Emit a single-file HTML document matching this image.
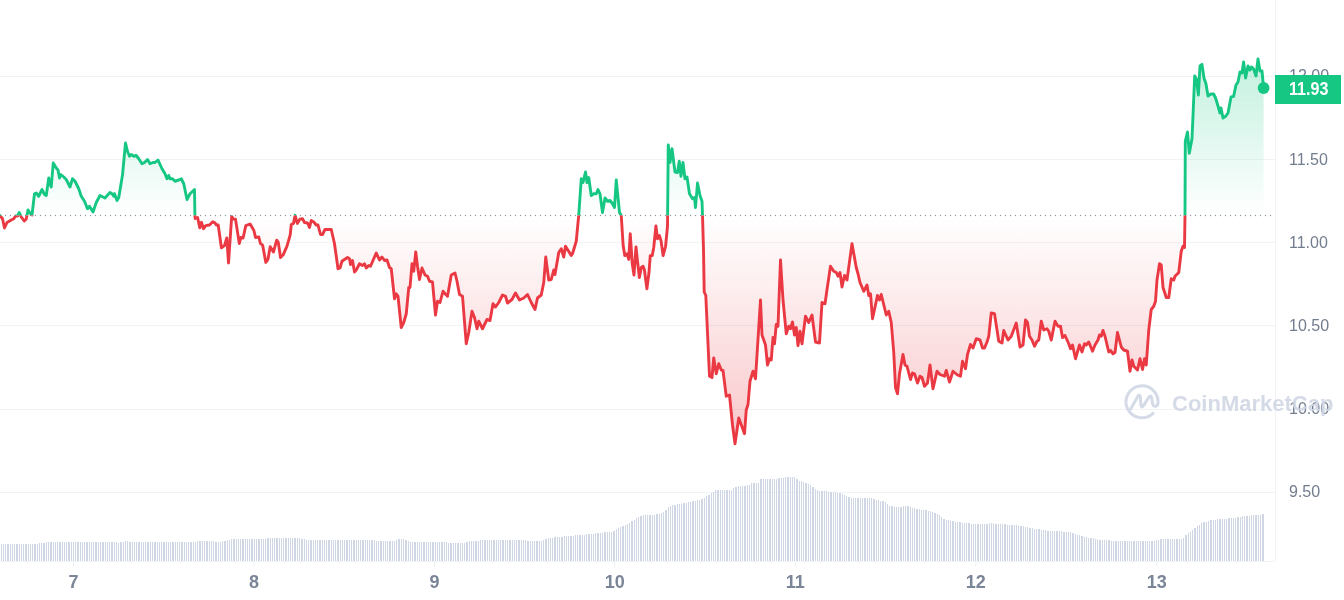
<!DOCTYPE html>
<html><head><meta charset="utf-8"><style>
html,body{margin:0;padding:0;background:#fff;width:1344px;height:600px;overflow:hidden}
svg{position:absolute;left:0;top:0;display:block;will-change:transform}
text{font-family:"Liberation Sans",sans-serif}
</style></head><body>
<svg width="1344" height="600" viewBox="0 0 1344 600">
<defs>
<clipPath id="cu"><rect x="0" y="0" width="1344" height="215.5"/></clipPath>
<clipPath id="cd"><rect x="0" y="215.5" width="1344" height="384.5"/></clipPath>
<linearGradient id="gg" gradientUnits="userSpaceOnUse" x1="0" y1="59" x2="0" y2="215.5">
<stop offset="0" stop-color="#16c784" stop-opacity="0.26"/><stop offset="1" stop-color="#16c784" stop-opacity="0"/></linearGradient>
<linearGradient id="rg" gradientUnits="userSpaceOnUse" x1="0" y1="215.5" x2="0" y2="444">
<stop offset="0" stop-color="#ea3943" stop-opacity="0"/><stop offset="1" stop-color="#ea3943" stop-opacity="0.28"/></linearGradient>
</defs>
<g stroke="#f2f3f5" stroke-width="1" fill="none" shape-rendering="crispEdges"><line x1="0" y1="76.5" x2="1275" y2="76.5"/><line x1="0" y1="159.5" x2="1275" y2="159.5"/><line x1="0" y1="242.5" x2="1275" y2="242.5"/><line x1="0" y1="325.5" x2="1275" y2="325.5"/><line x1="0" y1="409.5" x2="1275" y2="409.5"/><line x1="0" y1="492.5" x2="1275" y2="492.5"/><line x1="1275.5" y1="0" x2="1275.5" y2="561"/><line x1="0" y1="561.5" x2="1275" y2="561.5"/></g>
<g fill="#cfd6e4" shape-rendering="crispEdges"><rect x="1" y="544" width="1" height="17"/><rect x="3" y="544" width="1" height="17"/><rect x="5" y="544" width="1" height="17"/><rect x="7" y="544" width="2" height="17"/><rect x="10" y="544" width="1" height="17"/><rect x="12" y="544" width="1" height="17"/><rect x="14" y="544" width="1" height="17"/><rect x="16" y="544" width="2" height="17"/><rect x="19" y="544" width="1" height="17"/><rect x="21" y="544" width="1" height="17"/><rect x="23" y="544" width="1" height="17"/><rect x="25" y="544" width="2" height="17"/><rect x="28" y="544" width="1" height="17"/><rect x="30" y="544" width="1" height="17"/><rect x="32" y="544" width="1" height="17"/><rect x="34" y="544" width="2" height="17"/><rect x="37" y="544" width="1" height="17"/><rect x="39" y="543" width="1" height="18"/><rect x="41" y="543" width="1" height="18"/><rect x="43" y="543" width="2" height="18"/><rect x="46" y="542" width="1" height="19"/><rect x="48" y="542" width="1" height="19"/><rect x="50" y="542" width="2" height="19"/><rect x="53" y="542" width="1" height="19"/><rect x="55" y="542" width="1" height="19"/><rect x="57" y="542" width="1" height="19"/><rect x="59" y="542" width="2" height="19"/><rect x="62" y="542" width="1" height="19"/><rect x="64" y="542" width="1" height="19"/><rect x="66" y="542" width="1" height="19"/><rect x="68" y="542" width="2" height="19"/><rect x="71" y="542" width="1" height="19"/><rect x="73" y="542" width="1" height="19"/><rect x="75" y="542" width="1" height="19"/><rect x="77" y="542" width="2" height="19"/><rect x="80" y="542" width="1" height="19"/><rect x="82" y="542" width="1" height="19"/><rect x="84" y="542" width="1" height="19"/><rect x="86" y="542" width="2" height="19"/><rect x="89" y="542" width="1" height="19"/><rect x="91" y="542" width="1" height="19"/><rect x="93" y="542" width="1" height="19"/><rect x="95" y="542" width="2" height="19"/><rect x="98" y="542" width="1" height="19"/><rect x="100" y="542" width="1" height="19"/><rect x="102" y="542" width="2" height="19"/><rect x="105" y="542" width="1" height="19"/><rect x="107" y="542" width="1" height="19"/><rect x="109" y="542" width="1" height="19"/><rect x="111" y="542" width="2" height="19"/><rect x="114" y="542" width="1" height="19"/><rect x="116" y="542" width="1" height="19"/><rect x="118" y="543" width="1" height="18"/><rect x="120" y="542" width="2" height="19"/><rect x="123" y="542" width="1" height="19"/><rect x="125" y="541" width="1" height="20"/><rect x="127" y="541" width="1" height="20"/><rect x="129" y="542" width="2" height="19"/><rect x="132" y="542" width="1" height="19"/><rect x="134" y="542" width="1" height="19"/><rect x="136" y="542" width="1" height="19"/><rect x="138" y="542" width="2" height="19"/><rect x="141" y="542" width="1" height="19"/><rect x="143" y="542" width="1" height="19"/><rect x="145" y="542" width="1" height="19"/><rect x="147" y="542" width="2" height="19"/><rect x="150" y="542" width="1" height="19"/><rect x="152" y="542" width="1" height="19"/><rect x="154" y="542" width="2" height="19"/><rect x="157" y="542" width="1" height="19"/><rect x="159" y="542" width="1" height="19"/><rect x="161" y="542" width="1" height="19"/><rect x="163" y="542" width="2" height="19"/><rect x="166" y="542" width="1" height="19"/><rect x="168" y="542" width="1" height="19"/><rect x="170" y="542" width="1" height="19"/><rect x="172" y="542" width="2" height="19"/><rect x="175" y="542" width="1" height="19"/><rect x="177" y="542" width="1" height="19"/><rect x="179" y="542" width="1" height="19"/><rect x="181" y="542" width="2" height="19"/><rect x="184" y="542" width="1" height="19"/><rect x="186" y="542" width="1" height="19"/><rect x="188" y="542" width="1" height="19"/><rect x="190" y="542" width="2" height="19"/><rect x="193" y="542" width="1" height="19"/><rect x="195" y="542" width="1" height="19"/><rect x="197" y="541" width="1" height="20"/><rect x="199" y="541" width="2" height="20"/><rect x="202" y="541" width="1" height="20"/><rect x="204" y="541" width="1" height="20"/><rect x="206" y="541" width="2" height="20"/><rect x="209" y="541" width="1" height="20"/><rect x="211" y="541" width="1" height="20"/><rect x="213" y="541" width="1" height="20"/><rect x="215" y="542" width="2" height="19"/><rect x="218" y="542" width="1" height="19"/><rect x="220" y="542" width="1" height="19"/><rect x="222" y="541" width="1" height="20"/><rect x="224" y="541" width="2" height="20"/><rect x="227" y="540" width="1" height="21"/><rect x="229" y="540" width="1" height="21"/><rect x="231" y="539" width="1" height="22"/><rect x="233" y="539" width="2" height="22"/><rect x="236" y="539" width="1" height="22"/><rect x="238" y="539" width="1" height="22"/><rect x="240" y="539" width="1" height="22"/><rect x="242" y="539" width="2" height="22"/><rect x="245" y="539" width="1" height="22"/><rect x="247" y="539" width="1" height="22"/><rect x="249" y="539" width="1" height="22"/><rect x="251" y="539" width="2" height="22"/><rect x="254" y="539" width="1" height="22"/><rect x="256" y="539" width="1" height="22"/><rect x="258" y="539" width="2" height="22"/><rect x="261" y="539" width="1" height="22"/><rect x="263" y="539" width="1" height="22"/><rect x="265" y="539" width="1" height="22"/><rect x="267" y="538" width="2" height="23"/><rect x="270" y="538" width="1" height="23"/><rect x="272" y="538" width="1" height="23"/><rect x="274" y="538" width="1" height="23"/><rect x="276" y="538" width="2" height="23"/><rect x="279" y="538" width="1" height="23"/><rect x="281" y="538" width="1" height="23"/><rect x="283" y="538" width="1" height="23"/><rect x="285" y="538" width="2" height="23"/><rect x="288" y="538" width="1" height="23"/><rect x="290" y="538" width="1" height="23"/><rect x="292" y="538" width="1" height="23"/><rect x="294" y="538" width="2" height="23"/><rect x="297" y="538" width="1" height="23"/><rect x="299" y="538" width="1" height="23"/><rect x="301" y="539" width="2" height="22"/><rect x="304" y="539" width="1" height="22"/><rect x="306" y="540" width="1" height="21"/><rect x="308" y="540" width="1" height="21"/><rect x="310" y="540" width="2" height="21"/><rect x="313" y="540" width="1" height="21"/><rect x="315" y="540" width="1" height="21"/><rect x="317" y="540" width="1" height="21"/><rect x="319" y="540" width="2" height="21"/><rect x="322" y="540" width="1" height="21"/><rect x="324" y="540" width="1" height="21"/><rect x="326" y="540" width="1" height="21"/><rect x="328" y="540" width="2" height="21"/><rect x="331" y="540" width="1" height="21"/><rect x="333" y="540" width="1" height="21"/><rect x="335" y="540" width="1" height="21"/><rect x="337" y="540" width="2" height="21"/><rect x="340" y="540" width="1" height="21"/><rect x="342" y="540" width="1" height="21"/><rect x="344" y="540" width="1" height="21"/><rect x="346" y="540" width="2" height="21"/><rect x="349" y="540" width="1" height="21"/><rect x="351" y="540" width="1" height="21"/><rect x="353" y="540" width="2" height="21"/><rect x="356" y="540" width="1" height="21"/><rect x="358" y="540" width="1" height="21"/><rect x="360" y="540" width="1" height="21"/><rect x="362" y="540" width="2" height="21"/><rect x="365" y="540" width="1" height="21"/><rect x="367" y="540" width="1" height="21"/><rect x="369" y="540" width="1" height="21"/><rect x="371" y="540" width="2" height="21"/><rect x="374" y="540" width="1" height="21"/><rect x="376" y="541" width="1" height="20"/><rect x="378" y="541" width="1" height="20"/><rect x="380" y="541" width="2" height="20"/><rect x="383" y="541" width="1" height="20"/><rect x="385" y="541" width="1" height="20"/><rect x="387" y="541" width="1" height="20"/><rect x="389" y="541" width="2" height="20"/><rect x="392" y="541" width="1" height="20"/><rect x="394" y="541" width="1" height="20"/><rect x="396" y="540" width="1" height="21"/><rect x="398" y="539" width="2" height="22"/><rect x="401" y="539" width="1" height="22"/><rect x="403" y="539" width="1" height="22"/><rect x="405" y="540" width="2" height="21"/><rect x="408" y="541" width="1" height="20"/><rect x="410" y="542" width="1" height="19"/><rect x="412" y="542" width="1" height="19"/><rect x="414" y="542" width="2" height="19"/><rect x="417" y="542" width="1" height="19"/><rect x="419" y="542" width="1" height="19"/><rect x="421" y="542" width="1" height="19"/><rect x="423" y="542" width="2" height="19"/><rect x="426" y="542" width="1" height="19"/><rect x="428" y="542" width="1" height="19"/><rect x="430" y="542" width="1" height="19"/><rect x="432" y="542" width="2" height="19"/><rect x="435" y="542" width="1" height="19"/><rect x="437" y="542" width="1" height="19"/><rect x="439" y="542" width="1" height="19"/><rect x="441" y="542" width="2" height="19"/><rect x="444" y="542" width="1" height="19"/><rect x="446" y="542" width="1" height="19"/><rect x="448" y="543" width="1" height="18"/><rect x="450" y="543" width="2" height="18"/><rect x="453" y="543" width="1" height="18"/><rect x="455" y="543" width="1" height="18"/><rect x="457" y="543" width="2" height="18"/><rect x="460" y="543" width="1" height="18"/><rect x="462" y="543" width="1" height="18"/><rect x="464" y="543" width="1" height="18"/><rect x="466" y="542" width="2" height="19"/><rect x="469" y="541" width="1" height="20"/><rect x="471" y="541" width="1" height="20"/><rect x="473" y="541" width="1" height="20"/><rect x="475" y="541" width="2" height="20"/><rect x="478" y="541" width="1" height="20"/><rect x="480" y="540" width="1" height="21"/><rect x="482" y="540" width="1" height="21"/><rect x="484" y="540" width="2" height="21"/><rect x="487" y="540" width="1" height="21"/><rect x="489" y="540" width="1" height="21"/><rect x="491" y="540" width="1" height="21"/><rect x="493" y="540" width="2" height="21"/><rect x="496" y="540" width="1" height="21"/><rect x="498" y="540" width="1" height="21"/><rect x="500" y="540" width="1" height="21"/><rect x="502" y="540" width="2" height="21"/><rect x="505" y="540" width="1" height="21"/><rect x="507" y="540" width="1" height="21"/><rect x="509" y="540" width="2" height="21"/><rect x="512" y="540" width="1" height="21"/><rect x="514" y="540" width="1" height="21"/><rect x="516" y="540" width="1" height="21"/><rect x="518" y="540" width="2" height="21"/><rect x="521" y="540" width="1" height="21"/><rect x="523" y="540" width="1" height="21"/><rect x="525" y="540" width="1" height="21"/><rect x="527" y="541" width="2" height="20"/><rect x="530" y="541" width="1" height="20"/><rect x="532" y="541" width="1" height="20"/><rect x="534" y="541" width="1" height="20"/><rect x="536" y="541" width="2" height="20"/><rect x="539" y="541" width="1" height="20"/><rect x="541" y="541" width="1" height="20"/><rect x="543" y="540" width="1" height="21"/><rect x="545" y="539" width="2" height="22"/><rect x="548" y="538" width="1" height="23"/><rect x="550" y="538" width="1" height="23"/><rect x="552" y="538" width="1" height="23"/><rect x="554" y="537" width="2" height="24"/><rect x="557" y="537" width="1" height="24"/><rect x="559" y="537" width="1" height="24"/><rect x="561" y="537" width="2" height="24"/><rect x="564" y="536" width="1" height="25"/><rect x="566" y="536" width="1" height="25"/><rect x="568" y="536" width="1" height="25"/><rect x="570" y="536" width="2" height="25"/><rect x="573" y="536" width="1" height="25"/><rect x="575" y="535" width="1" height="26"/><rect x="577" y="535" width="1" height="26"/><rect x="579" y="535" width="2" height="26"/><rect x="582" y="535" width="1" height="26"/><rect x="584" y="535" width="1" height="26"/><rect x="586" y="534" width="1" height="27"/><rect x="588" y="534" width="2" height="27"/><rect x="591" y="534" width="1" height="27"/><rect x="593" y="534" width="1" height="27"/><rect x="595" y="533" width="1" height="28"/><rect x="597" y="533" width="2" height="28"/><rect x="600" y="533" width="1" height="28"/><rect x="602" y="533" width="1" height="28"/><rect x="604" y="532" width="2" height="29"/><rect x="607" y="532" width="1" height="29"/><rect x="609" y="532" width="1" height="29"/><rect x="611" y="532" width="1" height="29"/><rect x="613" y="531" width="2" height="30"/><rect x="616" y="529" width="1" height="32"/><rect x="618" y="528" width="1" height="33"/><rect x="620" y="527" width="1" height="34"/><rect x="622" y="526" width="2" height="35"/><rect x="625" y="525" width="1" height="36"/><rect x="627" y="524" width="1" height="37"/><rect x="629" y="523" width="1" height="38"/><rect x="631" y="521" width="2" height="40"/><rect x="634" y="520" width="1" height="41"/><rect x="636" y="518" width="1" height="43"/><rect x="638" y="517" width="1" height="44"/><rect x="640" y="516" width="2" height="45"/><rect x="643" y="515" width="1" height="46"/><rect x="645" y="515" width="1" height="46"/><rect x="647" y="515" width="1" height="46"/><rect x="649" y="515" width="2" height="46"/><rect x="652" y="515" width="1" height="46"/><rect x="654" y="515" width="1" height="46"/><rect x="656" y="514" width="2" height="47"/><rect x="659" y="514" width="1" height="47"/><rect x="661" y="513" width="1" height="48"/><rect x="663" y="512" width="1" height="49"/><rect x="665" y="510" width="2" height="51"/><rect x="668" y="507" width="1" height="54"/><rect x="670" y="506" width="1" height="55"/><rect x="672" y="505" width="1" height="56"/><rect x="674" y="505" width="2" height="56"/><rect x="677" y="504" width="1" height="57"/><rect x="679" y="504" width="1" height="57"/><rect x="681" y="504" width="1" height="57"/><rect x="683" y="503" width="2" height="58"/><rect x="686" y="503" width="1" height="58"/><rect x="688" y="502" width="1" height="59"/><rect x="690" y="502" width="1" height="59"/><rect x="692" y="501" width="2" height="60"/><rect x="695" y="501" width="1" height="60"/><rect x="697" y="500" width="1" height="61"/><rect x="699" y="500" width="1" height="61"/><rect x="701" y="499" width="2" height="62"/><rect x="704" y="498" width="1" height="63"/><rect x="706" y="496" width="1" height="65"/><rect x="708" y="495" width="2" height="66"/><rect x="711" y="493" width="1" height="68"/><rect x="713" y="492" width="1" height="69"/><rect x="715" y="490" width="1" height="71"/><rect x="717" y="490" width="2" height="71"/><rect x="720" y="490" width="1" height="71"/><rect x="722" y="490" width="1" height="71"/><rect x="724" y="490" width="1" height="71"/><rect x="726" y="490" width="2" height="71"/><rect x="729" y="490" width="1" height="71"/><rect x="731" y="490" width="1" height="71"/><rect x="733" y="488" width="1" height="73"/><rect x="735" y="487" width="2" height="74"/><rect x="738" y="486" width="1" height="75"/><rect x="740" y="486" width="1" height="75"/><rect x="742" y="486" width="1" height="75"/><rect x="744" y="486" width="2" height="75"/><rect x="747" y="485" width="1" height="76"/><rect x="749" y="485" width="1" height="76"/><rect x="751" y="483" width="1" height="78"/><rect x="753" y="483" width="2" height="78"/><rect x="756" y="483" width="1" height="78"/><rect x="758" y="483" width="1" height="78"/><rect x="760" y="479" width="2" height="82"/><rect x="763" y="479" width="1" height="82"/><rect x="765" y="479" width="1" height="82"/><rect x="767" y="479" width="1" height="82"/><rect x="769" y="479" width="2" height="82"/><rect x="772" y="479" width="1" height="82"/><rect x="774" y="479" width="1" height="82"/><rect x="776" y="479" width="1" height="82"/><rect x="778" y="478" width="2" height="83"/><rect x="781" y="478" width="1" height="83"/><rect x="783" y="478" width="1" height="83"/><rect x="785" y="477" width="1" height="84"/><rect x="787" y="477" width="2" height="84"/><rect x="790" y="477" width="1" height="84"/><rect x="792" y="477" width="1" height="84"/><rect x="794" y="477" width="1" height="84"/><rect x="796" y="479" width="2" height="82"/><rect x="799" y="481" width="1" height="80"/><rect x="801" y="481" width="1" height="80"/><rect x="803" y="482" width="1" height="79"/><rect x="805" y="483" width="2" height="78"/><rect x="808" y="484" width="1" height="77"/><rect x="810" y="485" width="1" height="76"/><rect x="812" y="487" width="2" height="74"/><rect x="815" y="489" width="1" height="72"/><rect x="817" y="490" width="1" height="71"/><rect x="819" y="491" width="1" height="70"/><rect x="821" y="491" width="2" height="70"/><rect x="824" y="491" width="1" height="70"/><rect x="826" y="491" width="1" height="70"/><rect x="828" y="492" width="1" height="69"/><rect x="830" y="492" width="2" height="69"/><rect x="833" y="492" width="1" height="69"/><rect x="835" y="492" width="1" height="69"/><rect x="837" y="493" width="1" height="68"/><rect x="839" y="493" width="2" height="68"/><rect x="842" y="494" width="1" height="67"/><rect x="844" y="495" width="1" height="66"/><rect x="846" y="496" width="1" height="65"/><rect x="848" y="497" width="2" height="64"/><rect x="851" y="498" width="1" height="63"/><rect x="853" y="498" width="1" height="63"/><rect x="855" y="498" width="1" height="63"/><rect x="857" y="498" width="2" height="63"/><rect x="860" y="498" width="1" height="63"/><rect x="862" y="498" width="1" height="63"/><rect x="864" y="498" width="2" height="63"/><rect x="867" y="498" width="1" height="63"/><rect x="869" y="498" width="1" height="63"/><rect x="871" y="498" width="1" height="63"/><rect x="873" y="499" width="2" height="62"/><rect x="876" y="500" width="1" height="61"/><rect x="878" y="500" width="1" height="61"/><rect x="880" y="501" width="1" height="60"/><rect x="882" y="501" width="2" height="60"/><rect x="885" y="502" width="1" height="59"/><rect x="887" y="504" width="1" height="57"/><rect x="889" y="506" width="1" height="55"/><rect x="891" y="506" width="2" height="55"/><rect x="894" y="507" width="1" height="54"/><rect x="896" y="507" width="1" height="54"/><rect x="898" y="507" width="1" height="54"/><rect x="900" y="507" width="2" height="54"/><rect x="903" y="506" width="1" height="55"/><rect x="905" y="506" width="1" height="55"/><rect x="907" y="506" width="2" height="55"/><rect x="910" y="507" width="1" height="54"/><rect x="912" y="508" width="1" height="53"/><rect x="914" y="508" width="1" height="53"/><rect x="916" y="509" width="2" height="52"/><rect x="919" y="509" width="1" height="52"/><rect x="921" y="510" width="1" height="51"/><rect x="923" y="510" width="1" height="51"/><rect x="925" y="510" width="2" height="51"/><rect x="928" y="511" width="1" height="50"/><rect x="930" y="511" width="1" height="50"/><rect x="932" y="512" width="1" height="49"/><rect x="934" y="513" width="2" height="48"/><rect x="937" y="514" width="1" height="47"/><rect x="939" y="515" width="1" height="46"/><rect x="941" y="517" width="1" height="44"/><rect x="943" y="519" width="2" height="42"/><rect x="946" y="520" width="1" height="41"/><rect x="948" y="520" width="1" height="41"/><rect x="950" y="521" width="1" height="40"/><rect x="952" y="521" width="2" height="40"/><rect x="955" y="522" width="1" height="39"/><rect x="957" y="522" width="1" height="39"/><rect x="959" y="522" width="2" height="39"/><rect x="962" y="523" width="1" height="38"/><rect x="964" y="523" width="1" height="38"/><rect x="966" y="523" width="1" height="38"/><rect x="968" y="523" width="2" height="38"/><rect x="971" y="524" width="1" height="37"/><rect x="973" y="524" width="1" height="37"/><rect x="975" y="524" width="1" height="37"/><rect x="977" y="524" width="2" height="37"/><rect x="980" y="524" width="1" height="37"/><rect x="982" y="524" width="1" height="37"/><rect x="984" y="524" width="1" height="37"/><rect x="986" y="524" width="2" height="37"/><rect x="989" y="523" width="1" height="38"/><rect x="991" y="523" width="1" height="38"/><rect x="993" y="523" width="1" height="38"/><rect x="995" y="524" width="2" height="37"/><rect x="998" y="524" width="1" height="37"/><rect x="1000" y="524" width="1" height="37"/><rect x="1002" y="524" width="1" height="37"/><rect x="1004" y="524" width="2" height="37"/><rect x="1007" y="525" width="1" height="36"/><rect x="1009" y="525" width="1" height="36"/><rect x="1011" y="525" width="2" height="36"/><rect x="1014" y="525" width="1" height="36"/><rect x="1016" y="525" width="1" height="36"/><rect x="1018" y="526" width="1" height="35"/><rect x="1020" y="526" width="2" height="35"/><rect x="1023" y="526" width="1" height="35"/><rect x="1025" y="527" width="1" height="34"/><rect x="1027" y="527" width="1" height="34"/><rect x="1029" y="528" width="2" height="33"/><rect x="1032" y="528" width="1" height="33"/><rect x="1034" y="529" width="1" height="32"/><rect x="1036" y="529" width="1" height="32"/><rect x="1038" y="529" width="2" height="32"/><rect x="1041" y="530" width="1" height="31"/><rect x="1043" y="530" width="1" height="31"/><rect x="1045" y="530" width="1" height="31"/><rect x="1047" y="531" width="2" height="30"/><rect x="1050" y="531" width="1" height="30"/><rect x="1052" y="531" width="1" height="30"/><rect x="1054" y="531" width="1" height="30"/><rect x="1056" y="531" width="2" height="30"/><rect x="1059" y="531" width="1" height="30"/><rect x="1061" y="531" width="1" height="30"/><rect x="1063" y="532" width="2" height="29"/><rect x="1066" y="532" width="1" height="29"/><rect x="1068" y="532" width="1" height="29"/><rect x="1070" y="532" width="1" height="29"/><rect x="1072" y="533" width="2" height="28"/><rect x="1075" y="534" width="1" height="27"/><rect x="1077" y="535" width="1" height="26"/><rect x="1079" y="535" width="1" height="26"/><rect x="1081" y="536" width="2" height="25"/><rect x="1084" y="537" width="1" height="24"/><rect x="1086" y="537" width="1" height="24"/><rect x="1088" y="538" width="1" height="23"/><rect x="1090" y="538" width="2" height="23"/><rect x="1093" y="538" width="1" height="23"/><rect x="1095" y="539" width="1" height="22"/><rect x="1097" y="539" width="1" height="22"/><rect x="1099" y="540" width="2" height="21"/><rect x="1102" y="540" width="1" height="21"/><rect x="1104" y="540" width="1" height="21"/><rect x="1106" y="540" width="1" height="21"/><rect x="1108" y="540" width="2" height="21"/><rect x="1111" y="541" width="1" height="20"/><rect x="1113" y="541" width="1" height="20"/><rect x="1115" y="541" width="2" height="20"/><rect x="1118" y="541" width="1" height="20"/><rect x="1120" y="541" width="1" height="20"/><rect x="1122" y="541" width="1" height="20"/><rect x="1124" y="541" width="2" height="20"/><rect x="1127" y="541" width="1" height="20"/><rect x="1129" y="541" width="1" height="20"/><rect x="1131" y="541" width="1" height="20"/><rect x="1133" y="541" width="2" height="20"/><rect x="1136" y="541" width="1" height="20"/><rect x="1138" y="541" width="1" height="20"/><rect x="1140" y="541" width="1" height="20"/><rect x="1142" y="541" width="2" height="20"/><rect x="1145" y="541" width="1" height="20"/><rect x="1147" y="541" width="1" height="20"/><rect x="1149" y="541" width="1" height="20"/><rect x="1151" y="541" width="2" height="20"/><rect x="1154" y="541" width="1" height="20"/><rect x="1156" y="540" width="1" height="21"/><rect x="1158" y="540" width="1" height="21"/><rect x="1160" y="539" width="2" height="22"/><rect x="1163" y="539" width="1" height="22"/><rect x="1165" y="539" width="1" height="22"/><rect x="1167" y="539" width="2" height="22"/><rect x="1170" y="539" width="1" height="22"/><rect x="1172" y="539" width="1" height="22"/><rect x="1174" y="539" width="1" height="22"/><rect x="1176" y="539" width="2" height="22"/><rect x="1179" y="539" width="1" height="22"/><rect x="1181" y="539" width="1" height="22"/><rect x="1183" y="538" width="1" height="23"/><rect x="1185" y="535" width="2" height="26"/><rect x="1188" y="533" width="1" height="28"/><rect x="1190" y="532" width="1" height="29"/><rect x="1192" y="530" width="1" height="31"/><rect x="1194" y="528" width="2" height="33"/><rect x="1197" y="526" width="1" height="35"/><rect x="1199" y="525" width="1" height="36"/><rect x="1201" y="523" width="1" height="38"/><rect x="1203" y="522" width="2" height="39"/><rect x="1206" y="522" width="1" height="39"/><rect x="1208" y="521" width="1" height="40"/><rect x="1210" y="520" width="2" height="41"/><rect x="1213" y="520" width="1" height="41"/><rect x="1215" y="520" width="1" height="41"/><rect x="1217" y="519" width="1" height="42"/><rect x="1219" y="519" width="2" height="42"/><rect x="1222" y="519" width="1" height="42"/><rect x="1224" y="519" width="1" height="42"/><rect x="1226" y="519" width="1" height="42"/><rect x="1228" y="518" width="2" height="43"/><rect x="1231" y="518" width="1" height="43"/><rect x="1233" y="518" width="1" height="43"/><rect x="1235" y="518" width="1" height="43"/><rect x="1237" y="517" width="2" height="44"/><rect x="1240" y="517" width="1" height="44"/><rect x="1242" y="516" width="1" height="45"/><rect x="1244" y="516" width="1" height="45"/><rect x="1246" y="516" width="2" height="45"/><rect x="1249" y="516" width="1" height="45"/><rect x="1251" y="515" width="1" height="46"/><rect x="1253" y="515" width="1" height="46"/><rect x="1255" y="515" width="2" height="46"/><rect x="1258" y="515" width="1" height="46"/><rect x="1260" y="515" width="1" height="46"/><rect x="1262" y="514" width="2" height="47"/></g>
<line x1="0.5" y1="215.5" x2="1271" y2="215.5" stroke="#8f949c" stroke-width="1.3" stroke-linecap="round" stroke-dasharray="0 5"/>
<path d="M0,215.5 L0,215.5 L2.5,218.75 L4.5,228 L7,222.5 L11.25,220 L13.75,218.75 L15.5,216 L17.5,216 L19.25,212.5 L21.25,217 L24.25,221 L26.25,219 L28,210 L30.5,213.75 L32,215 L34.5,193.75 L36.25,193 L38.75,196.25 L42,189.5 L44.5,194.5 L46.25,195.5 L48.75,178 L51.25,187 L53.25,163 L56.25,168 L58,170 L59.5,178 L60.75,174.5 L63.75,177 L66.25,179.5 L70,187 L72.5,178.75 L75,181.25 L78.75,188.75 L81.25,196.25 L84.5,201.25 L87.5,208.75 L89.5,206.25 L93,212 L96.25,202.5 L100,195.5 L105,198 L110,192.5 L112,193.75 L113.75,196.25 L114.5,193.75 L117,200.5 L118.75,197.5 L122.5,175 L125.5,143 L127.5,151.25 L129.5,156.25 L131.25,154.5 L133.75,156.25 L136.25,155.5 L138.75,158.75 L142,163.75 L144.5,162.5 L147.5,159.5 L150,163.75 L153,162.5 L155,162.5 L158,160 L162,168.75 L165,173.75 L167,178.75 L168.75,175.5 L170,178.75 L172.5,178.75 L175,181.25 L178.75,180 L181.25,178.75 L183.75,183.75 L187,199.5 L190,193.75 L194.5,189.5 L194.9,215.3 L195.2,218.5 L197.6,217.5 L199.75,227.75 L201.4,222.3 L203.5,228.8 L205.7,225.6 L209.5,225 L212.75,221.8 L214.9,222.9 L216.5,225 L218.2,225 L221.4,247.8 L224.5,245.6 L226.8,238 L228.5,263 L231.7,216.4 L233.3,219.1 L235.5,219.1 L239.3,243.5 L240.9,237.5 L243.1,238 L245.8,225.6 L250.1,224 L253.9,230.5 L255.5,237.5 L258.8,237 L260.4,243.5 L262.6,245.1 L265.8,262.4 L268,259.2 L270.2,246.7 L273.4,252.1 L276.7,240.2 L278.3,242.4 L280.5,257.5 L283.2,254.8 L287,246.2 L290.2,234.8 L291.3,224.5 L293.5,223.4 L295.1,215.3 L297.3,223.4 L300,219.1 L302.5,218.75 L304.5,222.5 L307.5,223 L309.5,227.5 L311.25,220.5 L313.75,222 L316.25,225 L318,225 L320.5,234.5 L322.5,234.5 L325,229.5 L328,229.5 L331.25,229.5 L334.5,243.75 L338,268.75 L340,268 L342,261.25 L344.5,259.5 L347.5,257.5 L349.5,258.75 L350.5,264.5 L352.5,260.5 L354.5,272 L356.25,270 L359.5,263.75 L362.5,265.5 L364.5,263.75 L366.25,268 L368.75,265.5 L370.5,266.25 L376.25,253 L379.5,260 L382,257 L384.5,260.5 L387,260 L389.5,267.5 L391.25,268.75 L394.5,298.75 L396.25,293.75 L398,296.25 L401.25,327.5 L403.75,322.5 L406.25,313.75 L408.75,287.5 L410,287.5 L412,263.75 L413.75,271.25 L415.75,252 L417.5,266.25 L419.5,279.5 L422,268 L425,275 L427.5,276.25 L429.5,281.25 L432.5,282 L435.5,315 L437.5,301.25 L440,302.5 L443,291.25 L445,293.75 L447.5,296.25 L451.25,275 L455,273 L457,281.25 L459.5,294.5 L462.5,296.25 L466.25,343.75 L468.75,332.5 L472,311.25 L474.5,317.5 L477,328.75 L478.75,321.25 L482.5,328.75 L487,319.5 L490,320.5 L493,303.75 L495.5,307 L498.75,302.5 L502.5,295 L505.5,296.25 L507.5,303 L512,299.5 L515.5,293 L519.5,300 L523.75,298 L527.5,294.5 L531.25,302.5 L535,309.5 L537.5,298 L541.25,295 L543.75,282.5 L545.75,257 L548.75,280 L551.25,279.5 L553.75,270 L555,274.5 L558.75,252.5 L561.25,248.75 L563.75,257 L565.5,246.25 L571.25,255.5 L572.5,253.75 L576.25,241.25 L578.75,215 L581.25,178.75 L583,182.5 L585.5,172 L587,182.5 L588.75,177.5 L591.25,195.5 L593.75,193.75 L596.25,193.75 L598,189.5 L600,193.75 L602.5,212.5 L605,198 L607.5,201.25 L610,200.5 L612.5,203.75 L614.5,207.5 L616.25,180 L619.5,212.5 L621.25,215.5 L623.1,245 L624.75,255.6 L626.9,253.75 L628.75,259.4 L630.25,233.75 L632.25,263.75 L634,275 L636,246.9 L637.5,261.25 L639.4,277.5 L641.25,267.5 L643.1,266.25 L644.4,270 L646.9,288.75 L649,272.5 L650.25,255.6 L652.25,255.6 L653.75,247.5 L655.9,226 L657.5,238.75 L659.4,235.6 L661,240.6 L663.1,255.6 L665.6,246.25 L667.5,226.25 L668.25,145 L670,162.5 L672,148.75 L675,172 L677.5,172.5 L679.25,161.25 L681,176.25 L683,162.5 L685,178.75 L687,177 L689.5,193.75 L692.5,198.75 L694.5,197.5 L695.5,207.5 L697.5,183 L700,195.5 L702,201.25 L702.5,215 L703.5,250 L704.2,292 L705.8,295.5 L709.5,376.25 L712,377.5 L713.75,358 L716.25,373.75 L718.75,363.75 L721.25,370 L723,370.5 L726.25,396.25 L729.5,395 L732.5,425 L735,443.75 L738.75,418 L744.5,433.75 L746.25,410 L748,404.5 L750,381.25 L753,371.25 L755.5,378.75 L760.5,300 L762,335 L765.5,345 L767.5,365 L769.5,358.75 L771.25,360 L773,337.5 L774.5,343.75 L776.25,324.5 L778,326.25 L780.5,260 L783,300 L786.25,333.75 L788.75,326.25 L790.5,328.75 L792.5,322 L794.5,335 L796.25,327.5 L798,345.5 L800,331.25 L802,343.75 L805.5,316.25 L808.75,322.5 L812,315 L815.5,342 L819.5,343 L822,302.5 L825,303.75 L827.5,286.25 L830.5,266.25 L833.75,271.25 L836.25,272.5 L838,276.25 L840,272.5 L842,287 L844.5,275.5 L847,280 L852,243.75 L856.25,267.5 L858,273.75 L860,282.5 L863.75,291.25 L867,285 L868.75,295.5 L870.5,293.75 L872.5,318.75 L877.5,295.5 L879.5,300 L881.25,294.5 L886.25,315 L888.75,311.25 L891.25,322.5 L893.75,352.5 L895.5,387.5 L897.5,393.75 L899.5,373.75 L903,354.5 L905,365 L907,366.25 L910.5,379.5 L912.5,373 L914.5,373.75 L917.5,383 L920,376.25 L922,377.5 L924.5,386.25 L927.5,383 L930,365 L933,388.75 L937,371.25 L940,374.5 L944.5,376.25 L946.25,370.5 L949.5,382 L953,371.25 L957.5,375 L960.5,376.25 L962.5,361.25 L965.5,368.75 L967.5,354.5 L970.5,344.5 L973,348 L976.25,338.75 L980,340 L982.5,348 L984.5,348 L987,342 L988.75,336.25 L991.25,313 L994.5,313.75 L998.75,341.25 L1002,343 L1003.75,330.5 L1008,340 L1011.25,336.25 L1016.25,323 L1020,347 L1023,345 L1025.5,320 L1027.5,322.5 L1029.5,336.25 L1032,340 L1034.5,346.25 L1037,341.25 L1038.75,340 L1041.25,321.25 L1043.75,330 L1047,328.75 L1048.75,331.25 L1051.25,340 L1055,321.25 L1058,326.25 L1060.5,326.25 L1062.5,337.5 L1065,335.5 L1068.75,343.75 L1070.5,348.75 L1072.5,345 L1075.5,358.75 L1079.5,345 L1082,352 L1084.5,343.75 L1086.25,345 L1088.75,342 L1092.5,351.25 L1095,345 L1098,340 L1099.5,335 L1101.25,336.25 L1103,330.5 L1105,336.25 L1108.75,352 L1110.5,350.5 L1113,353.75 L1115,352.5 L1117.5,332.5 L1121.25,347 L1123.75,350 L1127.5,351.25 L1130,371.25 L1132,360 L1133.75,366.25 L1137.5,370 L1140,358.75 L1142.5,369.5 L1144.5,358.75 L1146.25,365 L1148.75,330 L1151.25,309.5 L1153.75,306.25 L1155.5,301.25 L1157,280 L1159.5,263.75 L1161.25,265 L1163,287.5 L1166.25,297.5 L1168.75,297.5 L1171.25,278.75 L1173.75,280 L1175,276.25 L1178.75,272.5 L1181.25,251.25 L1183,246.25 L1184.5,247.5 L1185,215.5 L1185.3,141.3 L1187.5,132 L1189.3,153.3 L1192,138.7 L1194.7,76 L1196.4,79 L1198.4,95 L1200,66 L1202,64.4 L1204,78 L1206,84 L1208,96 L1211,94 L1213.6,94 L1215.6,98 L1218,106 L1220,113 L1221,108 L1223,118 L1225.9,116 L1228,113 L1231,97 L1233.6,96.4 L1236,85 L1238,82 L1240,72 L1242,73 L1243.6,62 L1245.6,78 L1248,66 L1250,70 L1251.6,67 L1253.6,69 L1256,76 L1258,59 L1260,71 L1262,71 L1263.6,88 L1263.6,215.5 Z" fill="url(#gg)" clip-path="url(#cu)"/>
<path d="M0,215.5 L0,215.5 L2.5,218.75 L4.5,228 L7,222.5 L11.25,220 L13.75,218.75 L15.5,216 L17.5,216 L19.25,212.5 L21.25,217 L24.25,221 L26.25,219 L28,210 L30.5,213.75 L32,215 L34.5,193.75 L36.25,193 L38.75,196.25 L42,189.5 L44.5,194.5 L46.25,195.5 L48.75,178 L51.25,187 L53.25,163 L56.25,168 L58,170 L59.5,178 L60.75,174.5 L63.75,177 L66.25,179.5 L70,187 L72.5,178.75 L75,181.25 L78.75,188.75 L81.25,196.25 L84.5,201.25 L87.5,208.75 L89.5,206.25 L93,212 L96.25,202.5 L100,195.5 L105,198 L110,192.5 L112,193.75 L113.75,196.25 L114.5,193.75 L117,200.5 L118.75,197.5 L122.5,175 L125.5,143 L127.5,151.25 L129.5,156.25 L131.25,154.5 L133.75,156.25 L136.25,155.5 L138.75,158.75 L142,163.75 L144.5,162.5 L147.5,159.5 L150,163.75 L153,162.5 L155,162.5 L158,160 L162,168.75 L165,173.75 L167,178.75 L168.75,175.5 L170,178.75 L172.5,178.75 L175,181.25 L178.75,180 L181.25,178.75 L183.75,183.75 L187,199.5 L190,193.75 L194.5,189.5 L194.9,215.3 L195.2,218.5 L197.6,217.5 L199.75,227.75 L201.4,222.3 L203.5,228.8 L205.7,225.6 L209.5,225 L212.75,221.8 L214.9,222.9 L216.5,225 L218.2,225 L221.4,247.8 L224.5,245.6 L226.8,238 L228.5,263 L231.7,216.4 L233.3,219.1 L235.5,219.1 L239.3,243.5 L240.9,237.5 L243.1,238 L245.8,225.6 L250.1,224 L253.9,230.5 L255.5,237.5 L258.8,237 L260.4,243.5 L262.6,245.1 L265.8,262.4 L268,259.2 L270.2,246.7 L273.4,252.1 L276.7,240.2 L278.3,242.4 L280.5,257.5 L283.2,254.8 L287,246.2 L290.2,234.8 L291.3,224.5 L293.5,223.4 L295.1,215.3 L297.3,223.4 L300,219.1 L302.5,218.75 L304.5,222.5 L307.5,223 L309.5,227.5 L311.25,220.5 L313.75,222 L316.25,225 L318,225 L320.5,234.5 L322.5,234.5 L325,229.5 L328,229.5 L331.25,229.5 L334.5,243.75 L338,268.75 L340,268 L342,261.25 L344.5,259.5 L347.5,257.5 L349.5,258.75 L350.5,264.5 L352.5,260.5 L354.5,272 L356.25,270 L359.5,263.75 L362.5,265.5 L364.5,263.75 L366.25,268 L368.75,265.5 L370.5,266.25 L376.25,253 L379.5,260 L382,257 L384.5,260.5 L387,260 L389.5,267.5 L391.25,268.75 L394.5,298.75 L396.25,293.75 L398,296.25 L401.25,327.5 L403.75,322.5 L406.25,313.75 L408.75,287.5 L410,287.5 L412,263.75 L413.75,271.25 L415.75,252 L417.5,266.25 L419.5,279.5 L422,268 L425,275 L427.5,276.25 L429.5,281.25 L432.5,282 L435.5,315 L437.5,301.25 L440,302.5 L443,291.25 L445,293.75 L447.5,296.25 L451.25,275 L455,273 L457,281.25 L459.5,294.5 L462.5,296.25 L466.25,343.75 L468.75,332.5 L472,311.25 L474.5,317.5 L477,328.75 L478.75,321.25 L482.5,328.75 L487,319.5 L490,320.5 L493,303.75 L495.5,307 L498.75,302.5 L502.5,295 L505.5,296.25 L507.5,303 L512,299.5 L515.5,293 L519.5,300 L523.75,298 L527.5,294.5 L531.25,302.5 L535,309.5 L537.5,298 L541.25,295 L543.75,282.5 L545.75,257 L548.75,280 L551.25,279.5 L553.75,270 L555,274.5 L558.75,252.5 L561.25,248.75 L563.75,257 L565.5,246.25 L571.25,255.5 L572.5,253.75 L576.25,241.25 L578.75,215 L581.25,178.75 L583,182.5 L585.5,172 L587,182.5 L588.75,177.5 L591.25,195.5 L593.75,193.75 L596.25,193.75 L598,189.5 L600,193.75 L602.5,212.5 L605,198 L607.5,201.25 L610,200.5 L612.5,203.75 L614.5,207.5 L616.25,180 L619.5,212.5 L621.25,215.5 L623.1,245 L624.75,255.6 L626.9,253.75 L628.75,259.4 L630.25,233.75 L632.25,263.75 L634,275 L636,246.9 L637.5,261.25 L639.4,277.5 L641.25,267.5 L643.1,266.25 L644.4,270 L646.9,288.75 L649,272.5 L650.25,255.6 L652.25,255.6 L653.75,247.5 L655.9,226 L657.5,238.75 L659.4,235.6 L661,240.6 L663.1,255.6 L665.6,246.25 L667.5,226.25 L668.25,145 L670,162.5 L672,148.75 L675,172 L677.5,172.5 L679.25,161.25 L681,176.25 L683,162.5 L685,178.75 L687,177 L689.5,193.75 L692.5,198.75 L694.5,197.5 L695.5,207.5 L697.5,183 L700,195.5 L702,201.25 L702.5,215 L703.5,250 L704.2,292 L705.8,295.5 L709.5,376.25 L712,377.5 L713.75,358 L716.25,373.75 L718.75,363.75 L721.25,370 L723,370.5 L726.25,396.25 L729.5,395 L732.5,425 L735,443.75 L738.75,418 L744.5,433.75 L746.25,410 L748,404.5 L750,381.25 L753,371.25 L755.5,378.75 L760.5,300 L762,335 L765.5,345 L767.5,365 L769.5,358.75 L771.25,360 L773,337.5 L774.5,343.75 L776.25,324.5 L778,326.25 L780.5,260 L783,300 L786.25,333.75 L788.75,326.25 L790.5,328.75 L792.5,322 L794.5,335 L796.25,327.5 L798,345.5 L800,331.25 L802,343.75 L805.5,316.25 L808.75,322.5 L812,315 L815.5,342 L819.5,343 L822,302.5 L825,303.75 L827.5,286.25 L830.5,266.25 L833.75,271.25 L836.25,272.5 L838,276.25 L840,272.5 L842,287 L844.5,275.5 L847,280 L852,243.75 L856.25,267.5 L858,273.75 L860,282.5 L863.75,291.25 L867,285 L868.75,295.5 L870.5,293.75 L872.5,318.75 L877.5,295.5 L879.5,300 L881.25,294.5 L886.25,315 L888.75,311.25 L891.25,322.5 L893.75,352.5 L895.5,387.5 L897.5,393.75 L899.5,373.75 L903,354.5 L905,365 L907,366.25 L910.5,379.5 L912.5,373 L914.5,373.75 L917.5,383 L920,376.25 L922,377.5 L924.5,386.25 L927.5,383 L930,365 L933,388.75 L937,371.25 L940,374.5 L944.5,376.25 L946.25,370.5 L949.5,382 L953,371.25 L957.5,375 L960.5,376.25 L962.5,361.25 L965.5,368.75 L967.5,354.5 L970.5,344.5 L973,348 L976.25,338.75 L980,340 L982.5,348 L984.5,348 L987,342 L988.75,336.25 L991.25,313 L994.5,313.75 L998.75,341.25 L1002,343 L1003.75,330.5 L1008,340 L1011.25,336.25 L1016.25,323 L1020,347 L1023,345 L1025.5,320 L1027.5,322.5 L1029.5,336.25 L1032,340 L1034.5,346.25 L1037,341.25 L1038.75,340 L1041.25,321.25 L1043.75,330 L1047,328.75 L1048.75,331.25 L1051.25,340 L1055,321.25 L1058,326.25 L1060.5,326.25 L1062.5,337.5 L1065,335.5 L1068.75,343.75 L1070.5,348.75 L1072.5,345 L1075.5,358.75 L1079.5,345 L1082,352 L1084.5,343.75 L1086.25,345 L1088.75,342 L1092.5,351.25 L1095,345 L1098,340 L1099.5,335 L1101.25,336.25 L1103,330.5 L1105,336.25 L1108.75,352 L1110.5,350.5 L1113,353.75 L1115,352.5 L1117.5,332.5 L1121.25,347 L1123.75,350 L1127.5,351.25 L1130,371.25 L1132,360 L1133.75,366.25 L1137.5,370 L1140,358.75 L1142.5,369.5 L1144.5,358.75 L1146.25,365 L1148.75,330 L1151.25,309.5 L1153.75,306.25 L1155.5,301.25 L1157,280 L1159.5,263.75 L1161.25,265 L1163,287.5 L1166.25,297.5 L1168.75,297.5 L1171.25,278.75 L1173.75,280 L1175,276.25 L1178.75,272.5 L1181.25,251.25 L1183,246.25 L1184.5,247.5 L1185,215.5 L1185.3,141.3 L1187.5,132 L1189.3,153.3 L1192,138.7 L1194.7,76 L1196.4,79 L1198.4,95 L1200,66 L1202,64.4 L1204,78 L1206,84 L1208,96 L1211,94 L1213.6,94 L1215.6,98 L1218,106 L1220,113 L1221,108 L1223,118 L1225.9,116 L1228,113 L1231,97 L1233.6,96.4 L1236,85 L1238,82 L1240,72 L1242,73 L1243.6,62 L1245.6,78 L1248,66 L1250,70 L1251.6,67 L1253.6,69 L1256,76 L1258,59 L1260,71 L1262,71 L1263.6,88 L1263.6,215.5 Z" fill="url(#rg)" clip-path="url(#cd)"/>
<g fill="#727d8f" font-size="16"><text x="1289" y="81.4">12.00</text><text x="1289" y="164.5">11.50</text><text x="1289" y="247.5">11.00</text><text x="1289" y="330.5">10.50</text><text x="1289" y="414.0">10.00</text><text x="1289" y="497.2">9.50</text></g>
<g opacity="0.88">
<path d="M1153,413.4 A16,16 0 1 1 1157.76,404.5 Q1156.5,407.2 1153.6,405.8 Q1152.6,405 1152.3,402 L1151.6,397.5 Q1150.9,394.6 1149,397 L1143.5,405.6 Q1141.4,408.6 1140.9,405 L1140.4,397 Q1139.8,393.6 1138,396.2 L1130.5,409.3" fill="none" stroke="#cfd6e4" stroke-width="3" stroke-linecap="round" stroke-linejoin="round"/>
<text x="1172" y="411" font-size="22" font-weight="bold" fill="#cfd6e4">CoinMarketCap</text>
</g>

<path d="M0,215.5 L2.5,218.75 L4.5,228 L7,222.5 L11.25,220 L13.75,218.75 L15.5,216 L17.5,216 L19.25,212.5 L21.25,217 L24.25,221 L26.25,219 L28,210 L30.5,213.75 L32,215 L34.5,193.75 L36.25,193 L38.75,196.25 L42,189.5 L44.5,194.5 L46.25,195.5 L48.75,178 L51.25,187 L53.25,163 L56.25,168 L58,170 L59.5,178 L60.75,174.5 L63.75,177 L66.25,179.5 L70,187 L72.5,178.75 L75,181.25 L78.75,188.75 L81.25,196.25 L84.5,201.25 L87.5,208.75 L89.5,206.25 L93,212 L96.25,202.5 L100,195.5 L105,198 L110,192.5 L112,193.75 L113.75,196.25 L114.5,193.75 L117,200.5 L118.75,197.5 L122.5,175 L125.5,143 L127.5,151.25 L129.5,156.25 L131.25,154.5 L133.75,156.25 L136.25,155.5 L138.75,158.75 L142,163.75 L144.5,162.5 L147.5,159.5 L150,163.75 L153,162.5 L155,162.5 L158,160 L162,168.75 L165,173.75 L167,178.75 L168.75,175.5 L170,178.75 L172.5,178.75 L175,181.25 L178.75,180 L181.25,178.75 L183.75,183.75 L187,199.5 L190,193.75 L194.5,189.5 L194.9,215.3 L195.2,218.5 L197.6,217.5 L199.75,227.75 L201.4,222.3 L203.5,228.8 L205.7,225.6 L209.5,225 L212.75,221.8 L214.9,222.9 L216.5,225 L218.2,225 L221.4,247.8 L224.5,245.6 L226.8,238 L228.5,263 L231.7,216.4 L233.3,219.1 L235.5,219.1 L239.3,243.5 L240.9,237.5 L243.1,238 L245.8,225.6 L250.1,224 L253.9,230.5 L255.5,237.5 L258.8,237 L260.4,243.5 L262.6,245.1 L265.8,262.4 L268,259.2 L270.2,246.7 L273.4,252.1 L276.7,240.2 L278.3,242.4 L280.5,257.5 L283.2,254.8 L287,246.2 L290.2,234.8 L291.3,224.5 L293.5,223.4 L295.1,215.3 L297.3,223.4 L300,219.1 L302.5,218.75 L304.5,222.5 L307.5,223 L309.5,227.5 L311.25,220.5 L313.75,222 L316.25,225 L318,225 L320.5,234.5 L322.5,234.5 L325,229.5 L328,229.5 L331.25,229.5 L334.5,243.75 L338,268.75 L340,268 L342,261.25 L344.5,259.5 L347.5,257.5 L349.5,258.75 L350.5,264.5 L352.5,260.5 L354.5,272 L356.25,270 L359.5,263.75 L362.5,265.5 L364.5,263.75 L366.25,268 L368.75,265.5 L370.5,266.25 L376.25,253 L379.5,260 L382,257 L384.5,260.5 L387,260 L389.5,267.5 L391.25,268.75 L394.5,298.75 L396.25,293.75 L398,296.25 L401.25,327.5 L403.75,322.5 L406.25,313.75 L408.75,287.5 L410,287.5 L412,263.75 L413.75,271.25 L415.75,252 L417.5,266.25 L419.5,279.5 L422,268 L425,275 L427.5,276.25 L429.5,281.25 L432.5,282 L435.5,315 L437.5,301.25 L440,302.5 L443,291.25 L445,293.75 L447.5,296.25 L451.25,275 L455,273 L457,281.25 L459.5,294.5 L462.5,296.25 L466.25,343.75 L468.75,332.5 L472,311.25 L474.5,317.5 L477,328.75 L478.75,321.25 L482.5,328.75 L487,319.5 L490,320.5 L493,303.75 L495.5,307 L498.75,302.5 L502.5,295 L505.5,296.25 L507.5,303 L512,299.5 L515.5,293 L519.5,300 L523.75,298 L527.5,294.5 L531.25,302.5 L535,309.5 L537.5,298 L541.25,295 L543.75,282.5 L545.75,257 L548.75,280 L551.25,279.5 L553.75,270 L555,274.5 L558.75,252.5 L561.25,248.75 L563.75,257 L565.5,246.25 L571.25,255.5 L572.5,253.75 L576.25,241.25 L578.75,215 L581.25,178.75 L583,182.5 L585.5,172 L587,182.5 L588.75,177.5 L591.25,195.5 L593.75,193.75 L596.25,193.75 L598,189.5 L600,193.75 L602.5,212.5 L605,198 L607.5,201.25 L610,200.5 L612.5,203.75 L614.5,207.5 L616.25,180 L619.5,212.5 L621.25,215.5 L623.1,245 L624.75,255.6 L626.9,253.75 L628.75,259.4 L630.25,233.75 L632.25,263.75 L634,275 L636,246.9 L637.5,261.25 L639.4,277.5 L641.25,267.5 L643.1,266.25 L644.4,270 L646.9,288.75 L649,272.5 L650.25,255.6 L652.25,255.6 L653.75,247.5 L655.9,226 L657.5,238.75 L659.4,235.6 L661,240.6 L663.1,255.6 L665.6,246.25 L667.5,226.25 L668.25,145 L670,162.5 L672,148.75 L675,172 L677.5,172.5 L679.25,161.25 L681,176.25 L683,162.5 L685,178.75 L687,177 L689.5,193.75 L692.5,198.75 L694.5,197.5 L695.5,207.5 L697.5,183 L700,195.5 L702,201.25 L702.5,215 L703.5,250 L704.2,292 L705.8,295.5 L709.5,376.25 L712,377.5 L713.75,358 L716.25,373.75 L718.75,363.75 L721.25,370 L723,370.5 L726.25,396.25 L729.5,395 L732.5,425 L735,443.75 L738.75,418 L744.5,433.75 L746.25,410 L748,404.5 L750,381.25 L753,371.25 L755.5,378.75 L760.5,300 L762,335 L765.5,345 L767.5,365 L769.5,358.75 L771.25,360 L773,337.5 L774.5,343.75 L776.25,324.5 L778,326.25 L780.5,260 L783,300 L786.25,333.75 L788.75,326.25 L790.5,328.75 L792.5,322 L794.5,335 L796.25,327.5 L798,345.5 L800,331.25 L802,343.75 L805.5,316.25 L808.75,322.5 L812,315 L815.5,342 L819.5,343 L822,302.5 L825,303.75 L827.5,286.25 L830.5,266.25 L833.75,271.25 L836.25,272.5 L838,276.25 L840,272.5 L842,287 L844.5,275.5 L847,280 L852,243.75 L856.25,267.5 L858,273.75 L860,282.5 L863.75,291.25 L867,285 L868.75,295.5 L870.5,293.75 L872.5,318.75 L877.5,295.5 L879.5,300 L881.25,294.5 L886.25,315 L888.75,311.25 L891.25,322.5 L893.75,352.5 L895.5,387.5 L897.5,393.75 L899.5,373.75 L903,354.5 L905,365 L907,366.25 L910.5,379.5 L912.5,373 L914.5,373.75 L917.5,383 L920,376.25 L922,377.5 L924.5,386.25 L927.5,383 L930,365 L933,388.75 L937,371.25 L940,374.5 L944.5,376.25 L946.25,370.5 L949.5,382 L953,371.25 L957.5,375 L960.5,376.25 L962.5,361.25 L965.5,368.75 L967.5,354.5 L970.5,344.5 L973,348 L976.25,338.75 L980,340 L982.5,348 L984.5,348 L987,342 L988.75,336.25 L991.25,313 L994.5,313.75 L998.75,341.25 L1002,343 L1003.75,330.5 L1008,340 L1011.25,336.25 L1016.25,323 L1020,347 L1023,345 L1025.5,320 L1027.5,322.5 L1029.5,336.25 L1032,340 L1034.5,346.25 L1037,341.25 L1038.75,340 L1041.25,321.25 L1043.75,330 L1047,328.75 L1048.75,331.25 L1051.25,340 L1055,321.25 L1058,326.25 L1060.5,326.25 L1062.5,337.5 L1065,335.5 L1068.75,343.75 L1070.5,348.75 L1072.5,345 L1075.5,358.75 L1079.5,345 L1082,352 L1084.5,343.75 L1086.25,345 L1088.75,342 L1092.5,351.25 L1095,345 L1098,340 L1099.5,335 L1101.25,336.25 L1103,330.5 L1105,336.25 L1108.75,352 L1110.5,350.5 L1113,353.75 L1115,352.5 L1117.5,332.5 L1121.25,347 L1123.75,350 L1127.5,351.25 L1130,371.25 L1132,360 L1133.75,366.25 L1137.5,370 L1140,358.75 L1142.5,369.5 L1144.5,358.75 L1146.25,365 L1148.75,330 L1151.25,309.5 L1153.75,306.25 L1155.5,301.25 L1157,280 L1159.5,263.75 L1161.25,265 L1163,287.5 L1166.25,297.5 L1168.75,297.5 L1171.25,278.75 L1173.75,280 L1175,276.25 L1178.75,272.5 L1181.25,251.25 L1183,246.25 L1184.5,247.5 L1185,215.5 L1185.3,141.3 L1187.5,132 L1189.3,153.3 L1192,138.7 L1194.7,76 L1196.4,79 L1198.4,95 L1200,66 L1202,64.4 L1204,78 L1206,84 L1208,96 L1211,94 L1213.6,94 L1215.6,98 L1218,106 L1220,113 L1221,108 L1223,118 L1225.9,116 L1228,113 L1231,97 L1233.6,96.4 L1236,85 L1238,82 L1240,72 L1242,73 L1243.6,62 L1245.6,78 L1248,66 L1250,70 L1251.6,67 L1253.6,69 L1256,76 L1258,59 L1260,71 L1262,71 L1263.6,88" fill="none" stroke="#16c784" stroke-width="2.9" stroke-linejoin="round" stroke-linecap="round" clip-path="url(#cu)"/>
<path d="M0,215.5 L2.5,218.75 L4.5,228 L7,222.5 L11.25,220 L13.75,218.75 L15.5,216 L17.5,216 L19.25,212.5 L21.25,217 L24.25,221 L26.25,219 L28,210 L30.5,213.75 L32,215 L34.5,193.75 L36.25,193 L38.75,196.25 L42,189.5 L44.5,194.5 L46.25,195.5 L48.75,178 L51.25,187 L53.25,163 L56.25,168 L58,170 L59.5,178 L60.75,174.5 L63.75,177 L66.25,179.5 L70,187 L72.5,178.75 L75,181.25 L78.75,188.75 L81.25,196.25 L84.5,201.25 L87.5,208.75 L89.5,206.25 L93,212 L96.25,202.5 L100,195.5 L105,198 L110,192.5 L112,193.75 L113.75,196.25 L114.5,193.75 L117,200.5 L118.75,197.5 L122.5,175 L125.5,143 L127.5,151.25 L129.5,156.25 L131.25,154.5 L133.75,156.25 L136.25,155.5 L138.75,158.75 L142,163.75 L144.5,162.5 L147.5,159.5 L150,163.75 L153,162.5 L155,162.5 L158,160 L162,168.75 L165,173.75 L167,178.75 L168.75,175.5 L170,178.75 L172.5,178.75 L175,181.25 L178.75,180 L181.25,178.75 L183.75,183.75 L187,199.5 L190,193.75 L194.5,189.5 L194.9,215.3 L195.2,218.5 L197.6,217.5 L199.75,227.75 L201.4,222.3 L203.5,228.8 L205.7,225.6 L209.5,225 L212.75,221.8 L214.9,222.9 L216.5,225 L218.2,225 L221.4,247.8 L224.5,245.6 L226.8,238 L228.5,263 L231.7,216.4 L233.3,219.1 L235.5,219.1 L239.3,243.5 L240.9,237.5 L243.1,238 L245.8,225.6 L250.1,224 L253.9,230.5 L255.5,237.5 L258.8,237 L260.4,243.5 L262.6,245.1 L265.8,262.4 L268,259.2 L270.2,246.7 L273.4,252.1 L276.7,240.2 L278.3,242.4 L280.5,257.5 L283.2,254.8 L287,246.2 L290.2,234.8 L291.3,224.5 L293.5,223.4 L295.1,215.3 L297.3,223.4 L300,219.1 L302.5,218.75 L304.5,222.5 L307.5,223 L309.5,227.5 L311.25,220.5 L313.75,222 L316.25,225 L318,225 L320.5,234.5 L322.5,234.5 L325,229.5 L328,229.5 L331.25,229.5 L334.5,243.75 L338,268.75 L340,268 L342,261.25 L344.5,259.5 L347.5,257.5 L349.5,258.75 L350.5,264.5 L352.5,260.5 L354.5,272 L356.25,270 L359.5,263.75 L362.5,265.5 L364.5,263.75 L366.25,268 L368.75,265.5 L370.5,266.25 L376.25,253 L379.5,260 L382,257 L384.5,260.5 L387,260 L389.5,267.5 L391.25,268.75 L394.5,298.75 L396.25,293.75 L398,296.25 L401.25,327.5 L403.75,322.5 L406.25,313.75 L408.75,287.5 L410,287.5 L412,263.75 L413.75,271.25 L415.75,252 L417.5,266.25 L419.5,279.5 L422,268 L425,275 L427.5,276.25 L429.5,281.25 L432.5,282 L435.5,315 L437.5,301.25 L440,302.5 L443,291.25 L445,293.75 L447.5,296.25 L451.25,275 L455,273 L457,281.25 L459.5,294.5 L462.5,296.25 L466.25,343.75 L468.75,332.5 L472,311.25 L474.5,317.5 L477,328.75 L478.75,321.25 L482.5,328.75 L487,319.5 L490,320.5 L493,303.75 L495.5,307 L498.75,302.5 L502.5,295 L505.5,296.25 L507.5,303 L512,299.5 L515.5,293 L519.5,300 L523.75,298 L527.5,294.5 L531.25,302.5 L535,309.5 L537.5,298 L541.25,295 L543.75,282.5 L545.75,257 L548.75,280 L551.25,279.5 L553.75,270 L555,274.5 L558.75,252.5 L561.25,248.75 L563.75,257 L565.5,246.25 L571.25,255.5 L572.5,253.75 L576.25,241.25 L578.75,215 L581.25,178.75 L583,182.5 L585.5,172 L587,182.5 L588.75,177.5 L591.25,195.5 L593.75,193.75 L596.25,193.75 L598,189.5 L600,193.75 L602.5,212.5 L605,198 L607.5,201.25 L610,200.5 L612.5,203.75 L614.5,207.5 L616.25,180 L619.5,212.5 L621.25,215.5 L623.1,245 L624.75,255.6 L626.9,253.75 L628.75,259.4 L630.25,233.75 L632.25,263.75 L634,275 L636,246.9 L637.5,261.25 L639.4,277.5 L641.25,267.5 L643.1,266.25 L644.4,270 L646.9,288.75 L649,272.5 L650.25,255.6 L652.25,255.6 L653.75,247.5 L655.9,226 L657.5,238.75 L659.4,235.6 L661,240.6 L663.1,255.6 L665.6,246.25 L667.5,226.25 L668.25,145 L670,162.5 L672,148.75 L675,172 L677.5,172.5 L679.25,161.25 L681,176.25 L683,162.5 L685,178.75 L687,177 L689.5,193.75 L692.5,198.75 L694.5,197.5 L695.5,207.5 L697.5,183 L700,195.5 L702,201.25 L702.5,215 L703.5,250 L704.2,292 L705.8,295.5 L709.5,376.25 L712,377.5 L713.75,358 L716.25,373.75 L718.75,363.75 L721.25,370 L723,370.5 L726.25,396.25 L729.5,395 L732.5,425 L735,443.75 L738.75,418 L744.5,433.75 L746.25,410 L748,404.5 L750,381.25 L753,371.25 L755.5,378.75 L760.5,300 L762,335 L765.5,345 L767.5,365 L769.5,358.75 L771.25,360 L773,337.5 L774.5,343.75 L776.25,324.5 L778,326.25 L780.5,260 L783,300 L786.25,333.75 L788.75,326.25 L790.5,328.75 L792.5,322 L794.5,335 L796.25,327.5 L798,345.5 L800,331.25 L802,343.75 L805.5,316.25 L808.75,322.5 L812,315 L815.5,342 L819.5,343 L822,302.5 L825,303.75 L827.5,286.25 L830.5,266.25 L833.75,271.25 L836.25,272.5 L838,276.25 L840,272.5 L842,287 L844.5,275.5 L847,280 L852,243.75 L856.25,267.5 L858,273.75 L860,282.5 L863.75,291.25 L867,285 L868.75,295.5 L870.5,293.75 L872.5,318.75 L877.5,295.5 L879.5,300 L881.25,294.5 L886.25,315 L888.75,311.25 L891.25,322.5 L893.75,352.5 L895.5,387.5 L897.5,393.75 L899.5,373.75 L903,354.5 L905,365 L907,366.25 L910.5,379.5 L912.5,373 L914.5,373.75 L917.5,383 L920,376.25 L922,377.5 L924.5,386.25 L927.5,383 L930,365 L933,388.75 L937,371.25 L940,374.5 L944.5,376.25 L946.25,370.5 L949.5,382 L953,371.25 L957.5,375 L960.5,376.25 L962.5,361.25 L965.5,368.75 L967.5,354.5 L970.5,344.5 L973,348 L976.25,338.75 L980,340 L982.5,348 L984.5,348 L987,342 L988.75,336.25 L991.25,313 L994.5,313.75 L998.75,341.25 L1002,343 L1003.75,330.5 L1008,340 L1011.25,336.25 L1016.25,323 L1020,347 L1023,345 L1025.5,320 L1027.5,322.5 L1029.5,336.25 L1032,340 L1034.5,346.25 L1037,341.25 L1038.75,340 L1041.25,321.25 L1043.75,330 L1047,328.75 L1048.75,331.25 L1051.25,340 L1055,321.25 L1058,326.25 L1060.5,326.25 L1062.5,337.5 L1065,335.5 L1068.75,343.75 L1070.5,348.75 L1072.5,345 L1075.5,358.75 L1079.5,345 L1082,352 L1084.5,343.75 L1086.25,345 L1088.75,342 L1092.5,351.25 L1095,345 L1098,340 L1099.5,335 L1101.25,336.25 L1103,330.5 L1105,336.25 L1108.75,352 L1110.5,350.5 L1113,353.75 L1115,352.5 L1117.5,332.5 L1121.25,347 L1123.75,350 L1127.5,351.25 L1130,371.25 L1132,360 L1133.75,366.25 L1137.5,370 L1140,358.75 L1142.5,369.5 L1144.5,358.75 L1146.25,365 L1148.75,330 L1151.25,309.5 L1153.75,306.25 L1155.5,301.25 L1157,280 L1159.5,263.75 L1161.25,265 L1163,287.5 L1166.25,297.5 L1168.75,297.5 L1171.25,278.75 L1173.75,280 L1175,276.25 L1178.75,272.5 L1181.25,251.25 L1183,246.25 L1184.5,247.5 L1185,215.5 L1185.3,141.3 L1187.5,132 L1189.3,153.3 L1192,138.7 L1194.7,76 L1196.4,79 L1198.4,95 L1200,66 L1202,64.4 L1204,78 L1206,84 L1208,96 L1211,94 L1213.6,94 L1215.6,98 L1218,106 L1220,113 L1221,108 L1223,118 L1225.9,116 L1228,113 L1231,97 L1233.6,96.4 L1236,85 L1238,82 L1240,72 L1242,73 L1243.6,62 L1245.6,78 L1248,66 L1250,70 L1251.6,67 L1253.6,69 L1256,76 L1258,59 L1260,71 L1262,71 L1263.6,88" fill="none" stroke="#ea3943" stroke-width="2.9" stroke-linejoin="round" stroke-linecap="round" clip-path="url(#cd)"/>
<circle cx="1263.6" cy="88" r="5.9" fill="#16c784"/>
<rect x="1275" y="75" width="66" height="29" fill="#16c784"/>
<text x="1289" y="95.3" font-size="18" font-weight="bold" fill="#fff" textLength="39.5" lengthAdjust="spacingAndGlyphs">11.93</text>
<g stroke="#eff2f5" stroke-width="1"><line x1="73.5" y1="561.5" x2="73.5" y2="567"/><line x1="254" y1="561.5" x2="254" y2="567"/><line x1="434.5" y1="561.5" x2="434.5" y2="567"/><line x1="614.8" y1="561.5" x2="614.8" y2="567"/><line x1="795.3" y1="561.5" x2="795.3" y2="567"/><line x1="975.8" y1="561.5" x2="975.8" y2="567"/><line x1="1156.8" y1="561.5" x2="1156.8" y2="567"/></g>
<g fill="#7a8597" font-size="18" font-weight="bold" text-anchor="middle"><text x="73.5" y="587.8">7</text><text x="254" y="587.8">8</text><text x="434.5" y="587.8">9</text><text x="614.8" y="587.8">10</text><text x="795.3" y="587.8">11</text><text x="975.8" y="587.8">12</text><text x="1156.8" y="587.8">13</text></g>
</svg>
</body></html>
